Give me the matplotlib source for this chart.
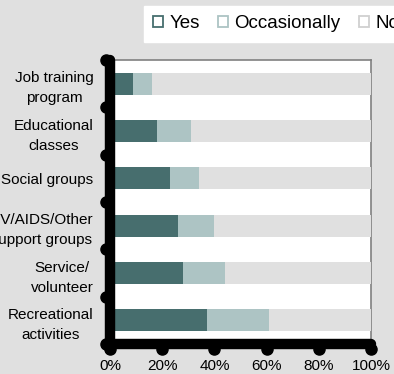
import matplotlib
matplotlib.use("Agg")
import matplotlib.pyplot as plt
from matplotlib.patches import Patch
import numpy as np

categories = ["Job training\nprogram", "Educational\nclasses", "Social groups",
              "HIV/AIDS/Other\nSupport groups", "Service/\nvolunteer", "Recreational\nactivities"]
yes = [9, 18, 23, 26, 28, 37]
occasionally = [7, 13, 11, 14, 16, 24]
no = [100 - a - b for a, b in zip(yes, occasionally)]
series_names = ["Yes", "Occasionally", "No"]
xticks = [0, 20, 40, 60, 80, 100]
xticklabels = ["0%", "20%", "40%", "60%", "80%", "100%"]

c_yes = "#476e6e"
c_occ = "#adc4c4"
c_no = "#e0e0e0"
bg = "#e0e0e0"

plt.rcParams['font.family'] = ['Liberation Sans', 'DejaVu Sans']

fig = plt.figure(figsize=(3.94, 3.74), dpi=100, facecolor=bg)
ax = fig.add_axes([110/394, 1 - 344/374, (371 - 110)/394, (344 - 60)/374])
ax.set_facecolor("white")

y = np.arange(len(categories))
h = 0.46
left = np.zeros(len(categories))
for vals, col in zip([yes, occasionally, no], [c_yes, c_occ, c_no]):
    ax.barh(y, vals, left=left, height=h, color=col, zorder=3, linewidth=0)
    left = left + np.array(vals)

ax.set_xlim(0, 100)
ax.set_ylim(len(categories) - 0.5, -0.5)

for s in ["top", "right"]:
    ax.spines[s].set_color("#808080")
    ax.spines[s].set_linewidth(1.2)
    ax.spines[s].set_zorder(2)
for s in ["left", "bottom"]:
    ax.spines[s].set_color("black")
    ax.spines[s].set_linewidth(7.5)
    ax.spines[s].set_capstyle("round")
    ax.spines[s].set_zorder(4)

ax.set_xticks(xticks)
ax.set_xticklabels(xticklabels, fontsize=11)
ax.set_yticks(y)
ax.set_yticklabels(categories, fontsize=11, multialignment="center", linespacing=1.55)
ax.tick_params(axis="x", length=0, pad=11)
ax.tick_params(axis="y", length=0, pad=12)

# round tick dots
bounds = np.arange(len(categories) + 1) - 0.5
ax.plot(np.full_like(bounds, -1.5), bounds, "o", color="black", markersize=8,
        clip_on=False, zorder=5)
ax.plot(xticks, [len(categories) - 0.5 + 0.1] * len(xticks), "o", color="black",
        markersize=8, clip_on=False, zorder=5)

handles = [Patch(facecolor="white", edgecolor=c, linewidth=1.3, label=n)
           for n, c in zip(series_names, [c_yes, c_occ, "#d0d0d0"])]
leg = fig.legend(handles=handles, loc="upper left", bbox_to_anchor=(144/394, 1 - 6/374),
                 ncol=3, fontsize=13.5, frameon=True, fancybox=False, framealpha=1,
                 edgecolor="white", facecolor="white", handlelength=0.5, handleheight=0.5,
                 handletextpad=0.35, columnspacing=1.0, borderpad=0.5, borderaxespad=0)

fig.savefig("out.png", dpi=100, facecolor=bg)
